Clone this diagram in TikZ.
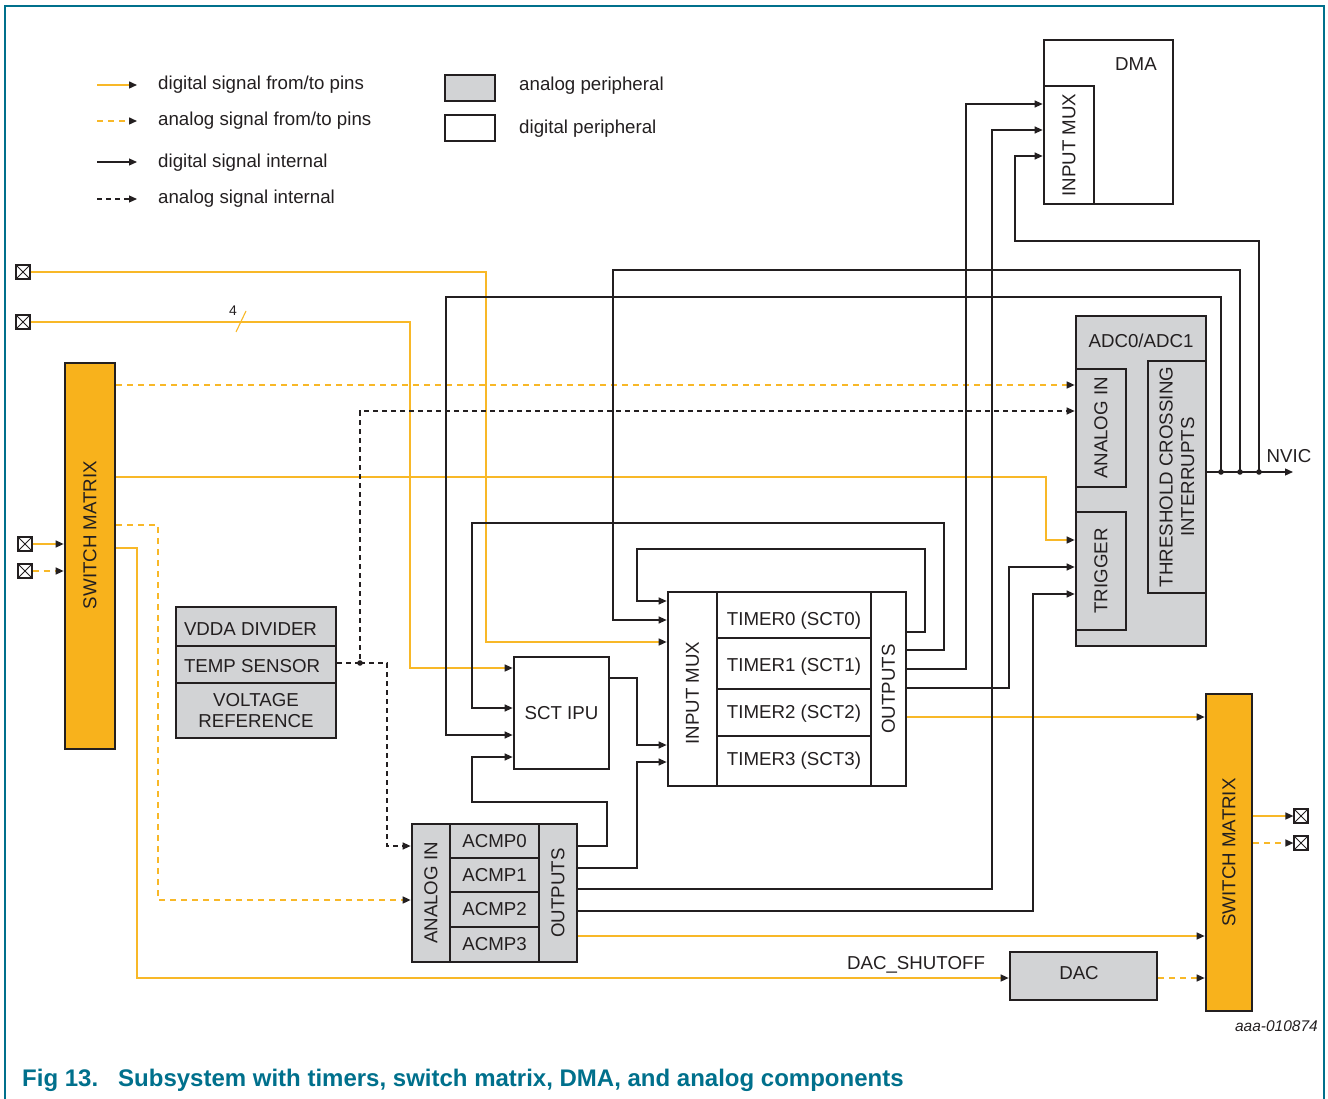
\documentclass[tikz,border=0pt]{standalone}
\usepackage{fontspec}
\setmainfont{Liberation Sans}
\usetikzlibrary{arrows.meta}
\definecolor{org}{RGB}{248,184,40}
\definecolor{orgfill}{RGB}{248,178,28}
\definecolor{grayfill}{RGB}{210,211,213}
\definecolor{nxpteal}{RGB}{0,112,140}
\definecolor{ink}{RGB}{35,31,32}
\newcommand\dropby[2]{\raisebox{-#1}[\height][\depth]{#2}}
\begin{document}
\begin{tikzpicture}[x=1pt,y=-1pt,
  every node/.style={font=\fontsize{18.7}{21.5}\selectfont, text=ink},
  box/.style={draw=ink, line width=2.7pt, inner sep=0pt, fill=white},
  abox/.style={box, fill=grayfill},
  swbox/.style={box, fill=orgfill},
  sig/.style={draw=ink, line width=1.2pt},
  osig/.style={draw=org, line width=1.5pt},
  adash/.style={sig, dash pattern=on 5pt off 4pt},
  odash/.style={osig, dash pattern=on 6pt off 5pt},
  arr/.style={-{Triangle[length=8pt,width=7pt,color=ink]}},
  padbox/.style={draw=ink, line width=1.2pt, minimum size=14pt, inner sep=0pt, fill=white,
    path picture={\draw[ink, line width=1pt] (path picture bounding box.north west)--(path picture bounding box.south east)
      (path picture bounding box.south west)--(path picture bounding box.north east);}},
  dot/.style={fill=ink}
]
\useasboundingbox (0,0) rectangle (1328,1099);
% frame
\draw[nxpteal, line width=1.5pt] (5,1099) -- (5,6) -- (1324,6) -- (1324,1099);

% ---------- legend ----------
\coordinate (l1a) at (97,85);  \coordinate (l1b) at (137,85);
\coordinate (l2a) at (97,121); \coordinate (l2b) at (137,121);
\coordinate (l3a) at (97,162); \coordinate (l3b) at (137,162);
\coordinate (l4a) at (97,199); \coordinate (l4b) at (137,199);
\draw[osig,arr] (l1a) -- (l1b);
\draw[odash,arr] (l2a) -- (l2b);
\draw[sig,arr] (l3a) -- (l3b);
\draw[adash,arr] (l4a) -- (l4b);
\node[anchor=west, inner sep=0pt] (lt1) at (158,85) {digital signal from/to pins};
\node[anchor=west, inner sep=0pt] (lt2) at (158,121) {analog signal from/to pins};
\node[anchor=west, inner sep=0pt] (lt3) at (158,163) {digital signal internal};
\node[anchor=west, inner sep=0pt] (lt4) at (158,199) {analog signal internal};
\node[abox, minimum width=50pt, minimum height=26pt] (lgA) at (470,88) {};
\node[box, minimum width=50pt, minimum height=26pt] (lgD) at (470,128) {};
\node[anchor=west, inner sep=0pt] (lt5) at (519,86) {analog peripheral};
\node[anchor=west, inner sep=0pt] (lt6) at (519,129) {digital peripheral};

% ---------- DMA ----------
\node[box, minimum width=129pt, minimum height=164pt] (dma) at (1108.5,122) {};
\node (dmalbl) at (1136,64) {DMA};
\node[box, minimum width=50pt, minimum height=118pt] (dmux) at (1069,145) {};
\node[rotate=90] (dmuxl) at (dmux) {INPUT MUX};

% ---------- ADC ----------
\node[abox, minimum width=130pt, minimum height=330pt] (adc) at (1141,481) {};
\node (adcl) at (1141,341) {ADC0/ADC1};
\node[abox, minimum width=50pt, minimum height=118pt] (adcai) at (1101,428) {};
\node[rotate=90] (adcail) at (adcai) {ANALOG IN};
\node[abox, minimum width=50pt, minimum height=118pt] (trig) at (1101,571) {};
\node[rotate=90] (trigl) at (trig) {TRIGGER};
\node[abox, minimum width=58pt, minimum height=232pt] (thr) at (1177,477) {};
\node[rotate=90, align=center] (thrl) at (thr) {THRESHOLD CROSSING\\INTERRUPTS};

% ---------- switch matrices ----------
\node[swbox, minimum width=50pt, minimum height=386pt] (sw1) at (90,556) {};
\node[rotate=90] (sw1l) at (90,535) {SWITCH MATRIX};
\node[swbox, minimum width=46pt, minimum height=317pt] (sw2) at (1229,852.5) {};
\node[rotate=90] (sw2l) at (sw2) {SWITCH MATRIX};

% ---------- analog blocks ----------
\node[abox, minimum width=160pt, minimum height=39pt] (vdda) at (256,626.5) {\makebox[160pt][l]{\hspace{8pt}\dropby{3pt}{VDDA DIVIDER}}};
\node[abox, minimum width=160pt, minimum height=37pt] (temp) at (256,664.5) {\makebox[160pt][l]{\hspace{8pt}\dropby{2pt}{TEMP SENSOR}}};
\node[abox, minimum width=160pt, minimum height=55pt, align=center] (vref) at (256,710.5) {VOLTAGE\\REFERENCE};

% ---------- SCT IPU ----------
\node[box, minimum width=95pt, minimum height=112pt] (sct) at (561.5,713) {SCT IPU};

% ---------- timers ----------
\node[box, minimum width=49pt, minimum height=194pt] (mux) at (692.5,689) {};
\node[rotate=90] (muxl) at (692.5,693) {INPUT MUX};
\node[box, minimum width=154pt, minimum height=46pt] (t0) at (794,615) {\dropby{6pt}{TIMER0 (SCT0)}};
\node[box, minimum width=154pt, minimum height=51pt] (t1) at (794,663.5) {\dropby{3pt}{TIMER1 (SCT1)}};
\node[box, minimum width=154pt, minimum height=47pt] (t2) at (794,712.5) {\dropby{1pt}{TIMER2 (SCT2)}};
\node[box, minimum width=154pt, minimum height=50pt] (t3) at (794,761) {TIMER3 (SCT3)};
\node[box, minimum width=35pt, minimum height=194pt] (tout) at (888.5,689) {};
\node[rotate=90] (toutl) at (tout) {OUTPUTS};

% ---------- ACMP ----------
\node[abox, minimum width=38pt, minimum height=138pt] (acai) at (431,893) {};
\node[rotate=90] (acail) at (acai) {ANALOG IN};
\node[abox, minimum width=89pt, minimum height=34pt] (a0) at (494.5,841) {ACMP0};
\node[abox, minimum width=89pt, minimum height=34pt] (a1) at (494.5,875) {ACMP1};
\node[abox, minimum width=89pt, minimum height=35pt] (a2) at (494.5,909.5) {ACMP2};
\node[abox, minimum width=89pt, minimum height=35pt] (a3) at (494.5,944.5) {ACMP3};
\node[abox, minimum width=38pt, minimum height=138pt] (aout) at (558,893) {};
\node[rotate=90] (aoutl) at (aout) {OUTPUTS};

% ---------- DAC ----------
\node[abox, minimum width=147pt, minimum height=48pt] (dac) at (1083.5,976) {\makebox[147pt]{\hspace{-9pt}\dropby{-3pt}{DAC}}};

% ---------- pins ----------
\node[padbox] (p1) at (23,272) {};
\node[padbox] (p2) at (23,322) {};
\node[padbox] (p3) at (25,544) {};
\node[padbox] (p4) at (25,571) {};
\node[padbox] (p5) at (1301,816) {};
\node[padbox] (p6) at (1301,843) {};

% ---------- orange connectors ----------
\draw[osig,arr] (p1.east) -| (486,642) -- (mux.west |- 0,642);
\draw[osig,arr] (p2.east) -| (410,668) -- (sct.west |- 0,668);
\draw[osig, line width=1.1pt] (236,332) -- (246,311);
\node[font=\fontsize{14}{16}\selectfont] (four) at (233,311) {4};
\draw[osig,arr] (p3.east) -- (sw1.west |- p3);
\draw[odash,arr] (p4.east) -- (sw1.west |- p4);
\draw[odash,arr] (sw1.east |- 0,385) -- (adcai.west |- 0,385);
\draw[osig,arr] (sw1.east |- 0,477) -| (1046,540) -- (trig.west |- 0,540);
\draw[odash,arr] (sw1.east |- 0,525) -| (158,900) -- (acai.west |- 0,900);
\draw[osig,arr] (sw1.east |- 0,548) -| (137,978) -- (dac.west |- 0,978);
\node (dacsh) at (916,965) {DAC\_SHUTOFF};
\draw[osig,arr] (tout.east |- 0,717) -- (sw2.west |- 0,717);
\draw[osig,arr] (aout.east |- 0,936) -- (sw2.west |- 0,936);
\draw[odash,arr] (dac.east |- 0,978) -- (sw2.west |- 0,978);
\draw[osig,arr] (sw2.east |- p5) -- (p5.west);
\draw[odash,arr] (sw2.east |- p6) -- (p6.west);

% ---------- analog internal ----------
\coordinate (jt) at (360,663);
\draw[adash,arr] (temp.east |- jt) -- (jt) -- (360,411) -- (adcai.west |- 0,411);
\draw[adash,arr] (jt) -| (387,846) -- (acai.west |- 0,846);
\fill[dot] (jt) circle (2.8pt);

% ---------- digital internal ----------
\coordinate (j1) at (1221,472);
\coordinate (j2) at (1240,472);
\coordinate (j3) at (1259,472);
\coordinate (nvic) at (1293,472);
\draw[sig,arr] (thr.east |- j1) -- (nvic);
\node (nvicl) at (1289,456) {NVIC};
\draw[sig,arr] (j3) |- (1015,241) |- (dmux.west |- 0,156);
\draw[sig,arr] (j2) |- (613,270) |- (mux.west |- 0,620);
\draw[sig,arr] (j1) |- (446,297) |- (sct.west |- 0,735);
\fill[dot] (j1) circle (2.8pt);
\fill[dot] (j2) circle (2.8pt);
\fill[dot] (j3) circle (2.8pt);

\draw[sig,arr] (tout.east |- 0,632) -| (925,549) -| (637,601) -- (mux.west |- 0,601);
\draw[sig,arr] (tout.east |- 0,650) -| (944,523) -| (472,708) -- (sct.west |- 0,708);
\draw[sig,arr] (tout.east |- 0,669) -| (966,104) -- (dmux.west |- 0,104);
\draw[sig,arr] (tout.east |- 0,688) -| (1009,567) -- (trig.west |- 0,567);
\draw[sig,arr] (sct.east |- 0,678) -| (637,745) -- (mux.west |- 0,745);
\draw[sig,arr] (aout.east |- 0,846) -| (607,802) -| (472,757) -- (sct.west |- 0,757);
\draw[sig,arr] (aout.east |- 0,868) -| (637,762) -- (mux.west |- 0,762);
\draw[sig,arr] (aout.east |- 0,889) -| (992,130) -- (dmux.west |- 0,130);
\draw[sig,arr] (aout.east |- 0,911) -| (1033,594) -- (trig.west |- 0,594);

% ---------- captions ----------
\node[anchor=east, inner sep=0pt, font=\fontsize{15.5}{17}\selectfont\itshape] (docid) at (1318,1026) {aaa-010874};
\node[anchor=west, inner sep=0pt, font=\fontsize{24}{27}\selectfont\bfseries, text=nxpteal] (fig) at (22,1080) {Fig 13.};
\node[anchor=west, inner sep=0pt, font=\fontsize{24}{27}\selectfont\bfseries, text=nxpteal] (figt) at (118,1080) {Subsystem with timers, switch matrix, DMA, and analog components};
\end{tikzpicture}
\end{document}
